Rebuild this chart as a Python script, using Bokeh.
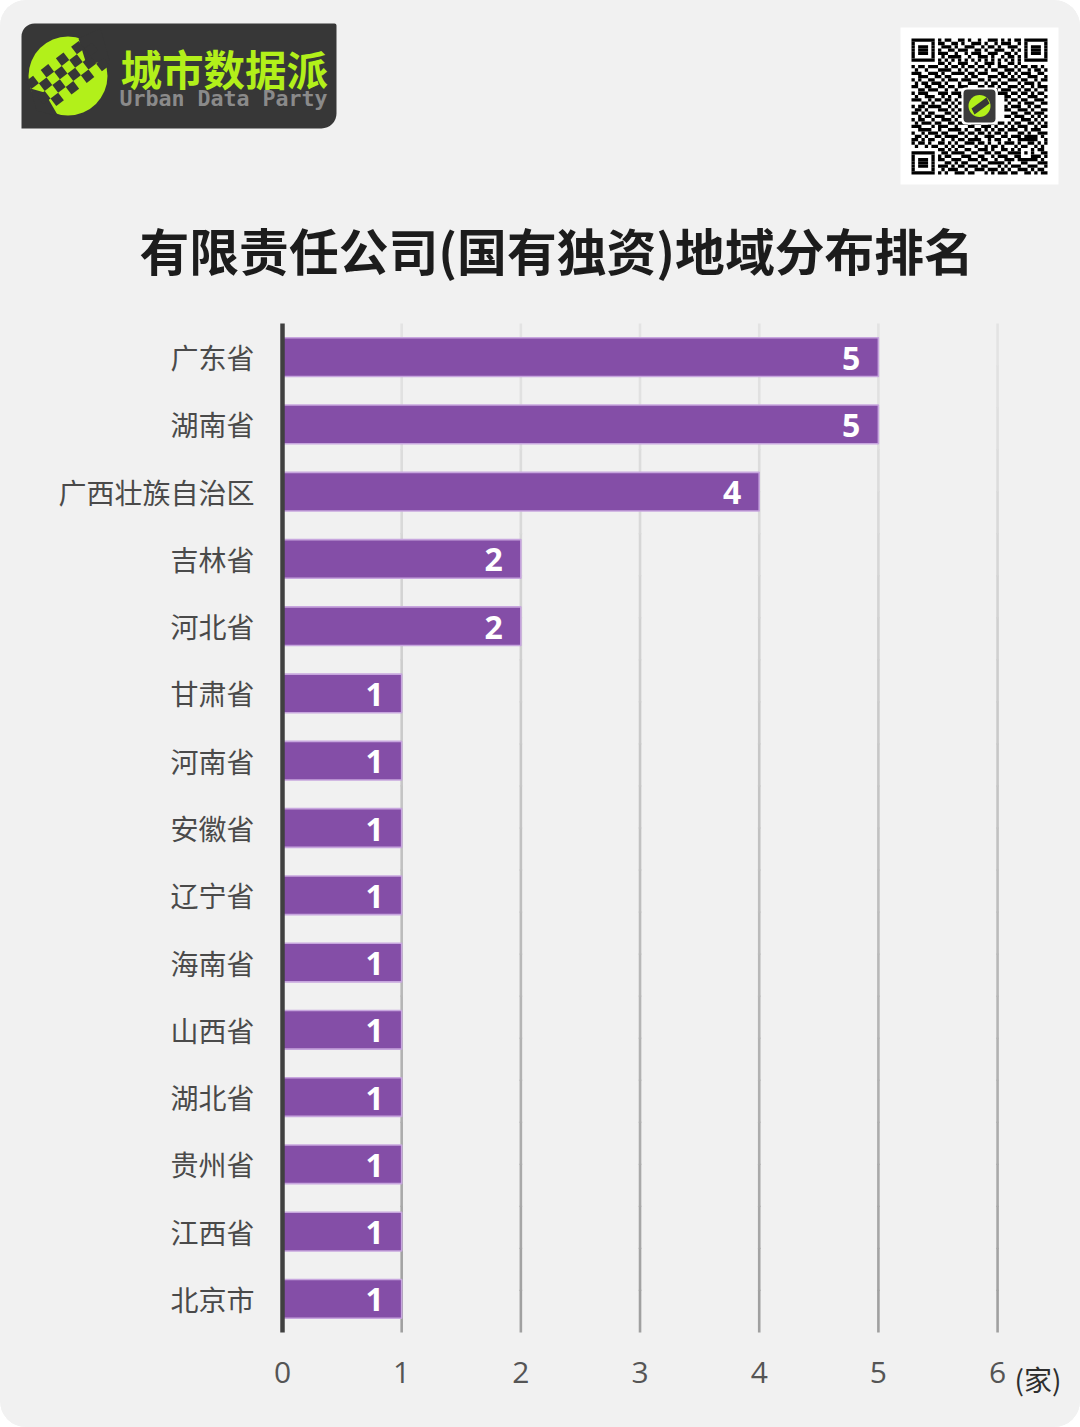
from bokeh.embed import file_html
from bokeh.layouts import column, row
from bokeh.resources import INLINE
from bokeh.plotting import figure
from bokeh.models import (ColumnDataSource, FactorRange, FixedTicker, LabelSet, Range1d)

categories = ["广东省", "湖南省", "广西壮族自治区", "吉林省", "河北省", "甘肃省", "河南省", "安徽省",
              "辽宁省", "海南省", "山西省", "湖北省", "贵州省", "江西省", "北京市"]
values = [5, 5, 4, 2, 2, 1, 1, 1, 1, 1, 1, 1, 1, 1, 1]
x_ticks = [0, 1, 2, 3, 4, 5, 6]
title_text = "有限责任公司(国有独资)地域分布排名"
unit_text = "(家)"
brand_cn = "城市数据派"
brand_en = "Urban Data Party"

QR = [
"11111110101100110100100111010101101111111",
"10000010110011010011101001011100101000001",
"10111010011101001110010110100111001011101",
"10111010100110111001101001110010101011101",
"10111010111001001011100111001101001011101",
"10000010010111100100111010010110101000001",
"11111110101010101010101010101010101111111",
"00000000110100111001001110100110100000000",
"10110111001011010110110100111001011011010",
"01001000111100101001001011001110100101101",
"11100111010011110110111000110101011100110",
"00111001101100001011000111011010100111001",
"10100110010111011100110100100111011001011",
"01011011101000100111001011011000101110100",
"11001100110110111000110110100111010010111",
"00110111001001001101101001011100101101001",
"10111000111011100110010110111011011010110",
"01001110010100111100000000001100100111001",
"11100101101101001100000000001011011001110",
"00011010011010110100000000000100101110011",
"10110111100101001100000000001011100101100",
"01101000111010111000000000001100111010011",
"11010110001101000100000000000011001101110",
"00101101110010110100000000001101110010101",
"10110010011101001100000000000010011101010",
"01011101100110111011100110110101100110101",
"11100010111001000110011101001010111001011",
"00111100100111101001101010110111001011100",
"10010111011000110110110101101000110100111",
"01101001101111001001001110011011101111010",
"11010110010010110111100101100100111111001",
"10110100110101001110110100101110100110101",
"01001011001010110001001011010001011001010",
"00000000110101001100111010011010100010110",
"11111110011011110011001101100111101010011",
"10000010101100011100110010111001100011101",
"10111010110011100111011001001110111111010",
"10111010001101011000100111110100011000111",
"10111010111010110111011000101011100111001",
"10000010010111001001110111010100111010110",
"11111110101001110110001010111011001101011",
]

BG = "#f1f1f1"
HEAD_H = 323
PAGE_W, PAGE_H = 1080, 1427
MAIN_W = 1009

# ---------- chart ----------
p = figure(width=MAIN_W, height=PAGE_H - HEAD_H, output_backend="svg", toolbar_location=None,
           x_range=Range1d(0, 6.1), y_range=FactorRange(factors=categories[::-1]),
           min_border_left=282, min_border_right=0, min_border_top=0, min_border_bottom=95,
           background_fill_color=BG, border_fill_color=BG, outline_line_color=None,
           frame_align=False)

# Vertical gridlines that darken towards the bottom
p.xgrid.visible = False
p.ygrid.visible = False
shades = ["#a0a0a0", "#a3a3a3", "#a6a6a6", "#a9a9a9", "#acacac", "#afafaf", "#b2b2b2", "#b5b5b5",
          "#b8b8b8", "#bbbbbb", "#bebebe", "#c1c1c1", "#c4c4c4", "#c7c7c7", "#cacaca", "#cdcdcd",
          "#d0d0d0", "#d3d3d3", "#d6d6d6", "#d9d9d9", "#dcdcdc", "#dfdfdf", "#e1e1e1", "#e3e3e3"]
fade_steps = [f"s{i}" for i in range(len(shades))]
p.extra_y_ranges = {"fade": FactorRange(factors=fade_steps)}
for tick in x_ticks[1:]:
    p.rect(x=[tick] * len(shades), y=fade_steps, width=2.6 / 119.2, height=1.03,
           y_range_name="fade", fill_color=shades, line_color=None)

source = ColumnDataSource(dict(cat=categories, val=values, txt=[str(v) for v in values]))
p.hbar(y="cat", right="val", left=0, height=0.575, source=source, fill_color="#844ea7",
       line_color="#c7a6de", line_width=1.6)
p.add_layout(LabelSet(x="val", y="cat", text="txt", source=source, text_color="#ffffff",
                      text_font={"value": "Open Sans"}, text_font_style="bold",
                      text_font_size="32px", text_align="right", text_baseline="middle",
                      x_offset=-18, y_offset=-1))

ax = p.xaxis[0]
ax.ticker = FixedTicker(ticks=x_ticks)
ax.axis_line_color = None
ax.major_tick_line_color = None
ax.minor_tick_line_color = None
ax.major_label_text_font = "Open Sans"
ax.major_label_text_font_size = "30px"
ax.major_label_text_color = "#555555"
ax.major_label_standoff = 23

ay = p.yaxis[0]
ay.axis_line_color = "#404040"
ay.axis_line_width = 4.5
ay.major_tick_line_color = None
ay.minor_tick_line_color = None
ay.major_label_text_font = "Noto Sans CJK SC"
ay.major_label_text_font_size = "28px"
ay.major_label_text_color = "#4a4a4a"
ay.major_label_standoff = 22


def canvas_fig(width, height, x_range, y_range):
    f = figure(width=width, height=height, output_backend="svg", toolbar_location=None,
               x_range=Range1d(*x_range), y_range=Range1d(*y_range),
               min_border=0, background_fill_color=BG, border_fill_color=BG,
               outline_line_color=None, frame_align=False)
    f.axis.visible = False
    f.grid.visible = False
    return f


# ---------- unit label to the right of the chart ----------
strip = canvas_fig(PAGE_W - MAIN_W, PAGE_H - HEAD_H, (MAIN_W, PAGE_W), (PAGE_H, HEAD_H))
strip.text(x=[1014], y=[1378], text=[unit_text], text_font={"value": "Noto Sans CJK SC"},
           text_font_size={"value": "28px"}, text_color="#2e2e2e", text_baseline="middle")

# ---------- header: logo, QR code and title ----------
h = canvas_fig(PAGE_W, HEAD_H, (0, PAGE_W), (HEAD_H, 0))
h.text(x=[139], y=[248], text=[title_text], text_font={"value": "Noto Sans CJK SC"},
       text_font_style="bold", text_font_size={"value": "49.8px"}, text_color="#1c1c1c",
       text_baseline="middle")
DARK, LIME = "#373737", "#b2f01a"
h.quad(left=[21], right=[336], top=[23], bottom=[128], fill_color=DARK, line_color=None,
       border_radius=(13, 2, 15, 0))
h.circle(x=[67.5], y=[75.5], radius=39.5, fill_color=LIME, line_color=None)
h.patch([78, 100, 109, 86], [38, 28, 60, 64], fill_color=DARK, line_color=None)
h.patch([30, 44, 58, 36], [88, 92, 116, 110], fill_color=DARK, line_color=None)
ux, uy = 7.6, -5.8
vx, vy = 5.8, 7.6
cx, cy = 67, 73
for i in range(-4, 4):
    for j in range(-2, 2):
        if (i + j) % 2 == 0:
            x0, y0 = cx + i * ux + j * vx, cy + i * uy + j * vy
            h.patch([x0, x0 + ux, x0 + ux + vx, x0 + vx], [y0, y0 + uy, y0 + uy + vy, y0 + vy],
                    fill_color=DARK, line_color=None)
h.text(x=[120], y=[67], text=[brand_cn], text_font={"value": "Noto Sans CJK SC"},
       text_font_style="bold", text_font_size={"value": "41.5px"}, text_color=LIME,
       text_baseline="middle")
h.text(x=[119], y=[98], text=[brand_en], text_font={"value": "DejaVu Sans Mono"},
       text_font_style="bold", text_font_size={"value": "21.6px"}, text_color="#8a8a8a",
       text_baseline="middle")

h.quad(left=[900], right=[1058], top=[27], bottom=[184], fill_color="#ffffff", line_color=None)
M = 136 / 41
ql, qr, qt, qb = [], [], [], []
for r, line in enumerate(QR):
    c = 0
    while c < len(line):
        if line[c] == "1":
            e = c
            while e + 1 < len(line) and line[e + 1] == "1":
                e += 1
            ql.append(911 + c * M)
            qr.append(911 + (e + 1) * M)
            qt.append(38 + r * M)
            qb.append(38 + (r + 1) * M)
            c = e + 1
        else:
            c += 1
h.quad(left=ql, right=qr, top=qt, bottom=qb, fill_color="#000000", line_color=None)
h.quad(left=[961], right=[997], top=[87], bottom=[124], fill_color="#ffffff", line_color=None,
       border_radius=4)
h.quad(left=[963], right=[995], top=[89], bottom=[122], fill_color="#3c3c3c", line_color=None,
       border_radius=4)
h.circle(x=[979], y=[105.5], radius=11, fill_color=LIME, line_color=None)
h.patch([971, 986, 989, 974], [108, 97, 103, 114], fill_color=DARK, line_color=None)

page = column(h, row(p, strip, spacing=0), spacing=0,
              styles={"border-radius": "26px", "overflow": "hidden", "background": BG})
open("out.html", "w").write(file_html(page, INLINE))
